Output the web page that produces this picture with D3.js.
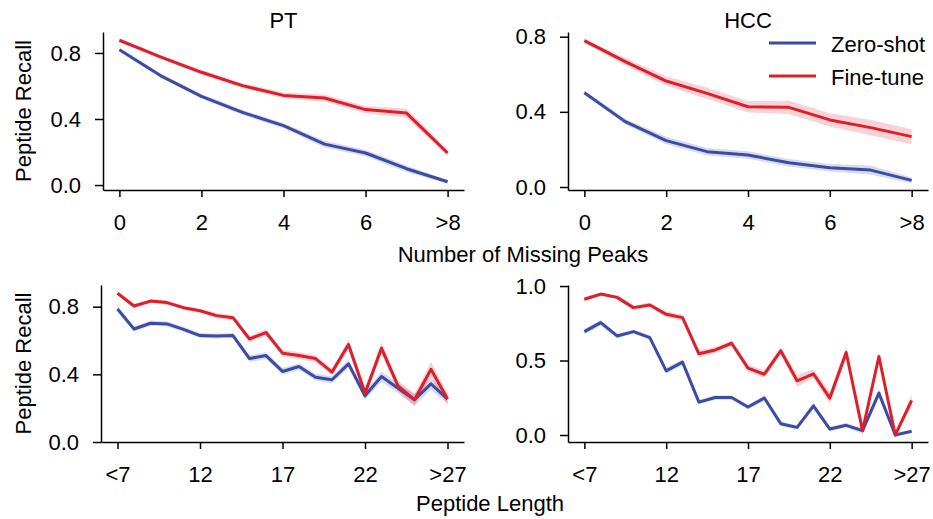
<!DOCTYPE html>
<html>
<head>
<meta charset="utf-8">
<script src="https://cdn.jsdelivr.net/npm/d3@7"></script>
<style>
  body { margin: 0; background: #fff; }
  svg { font-family: "Liberation Sans", Arial, sans-serif; }
  .tick text { font-size: 22px; fill: #000; }
  .domain, .tick line { stroke: #000; stroke-width: 1.5px; }
</style>
</head>
<body>
<script>
// Missing peaks panels
const peakX = [0, 1, 2, 3, 4, 5, 6, 7, 8]
const peakTicks = [0, 2, 4, 6, 8]
const peakTickLabels = ['0', '2', '4', '6', '>8']

const ptZero = [0.82, 0.663, 0.537, 0.44, 0.36, 0.248, 0.194, 0.099, 0.02]
const ptZeroCi = [0.01, 0.012, 0.015, 0.015, 0.016, 0.02, 0.02, 0.02, 0.01]
const ptFine = [0.877, 0.776, 0.683, 0.602, 0.543, 0.527, 0.457, 0.436, 0.194]
const ptFineCi = [0.01, 0.012, 0.015, 0.015, 0.018, 0.022, 0.022, 0.028, 0.018]

const hccZero = [0.502, 0.348, 0.247, 0.188, 0.17, 0.129, 0.103, 0.09, 0.035]
const hccZeroCi = [0.01, 0.015, 0.02, 0.02, 0.02, 0.02, 0.02, 0.025, 0.015]
const hccFine = [0.779, 0.667, 0.564, 0.498, 0.427, 0.424, 0.357, 0.316, 0.268]
const hccFineCi = [0.012, 0.02, 0.025, 0.03, 0.03, 0.035, 0.035, 0.04, 0.04]

// Peptide length panels (index 0 = "<7", index 20 = ">27")
const lenX = d3.range(21)
const lenTicks = [0, 5, 10, 15, 20]
const lenTickLabels = ['<7', '12', '17', '22', '>27']

const ptLenZero = [0.786, 0.668, 0.702, 0.698, 0.666, 0.629, 0.627, 0.629, 0.493, 0.511, 0.417,
  0.446, 0.383, 0.368, 0.462, 0.273, 0.387, 0.318, 0.25, 0.344, 0.254]
const ptLenZeroCi = [0.015, 0.015, 0.015, 0.015, 0.015, 0.015, 0.015, 0.015, 0.02, 0.02, 0.02,
  0.02, 0.02, 0.02, 0.025, 0.025, 0.03, 0.03, 0.035, 0.035, 0.03]
const ptLenFine = [0.879, 0.804, 0.833, 0.824, 0.794, 0.776, 0.747, 0.735, 0.609, 0.647, 0.525,
  0.511, 0.493, 0.413, 0.576, 0.289, 0.554, 0.332, 0.25, 0.43, 0.254]
const ptLenFineCi = [0.01, 0.012, 0.012, 0.012, 0.012, 0.012, 0.015, 0.015, 0.018, 0.02, 0.02,
  0.02, 0.02, 0.02, 0.03, 0.03, 0.035, 0.03, 0.035, 0.045, 0.035]

const hccLenZero = [0.694, 0.754, 0.665, 0.694, 0.654, 0.431, 0.489, 0.221, 0.252, 0.252, 0.188,
  0.248, 0.076, 0.051, 0.196, 0.04, 0.065, 0.029, 0.281, 0.0, 0.025]
const hccLenZeroCi = [0.02, 0.02, 0.015, 0.015, 0.015, 0.02, 0.02, 0.015, 0.015, 0.015, 0.015,
  0.02, 0.015, 0.015, 0.02, 0.015, 0.015, 0.02, 0.03, 0.005, 0.01]
const hccLenFine = [0.911, 0.946, 0.924, 0.855, 0.873, 0.81, 0.788, 0.545, 0.571, 0.616, 0.449,
  0.408, 0.565, 0.364, 0.411, 0.248, 0.554, 0.029, 0.527, 0.0, 0.232]
const hccLenFineCi = [0.015, 0.012, 0.012, 0.015, 0.015, 0.02, 0.02, 0.025, 0.02, 0.02, 0.025,
  0.025, 0.025, 0.04, 0.03, 0.04, 0.04, 0.02, 0.03, 0.005, 0.04]

const seriesNames = ['Zero-shot', 'Fine-tune']
const colors = ['#3a4ca4', '#dd1f2b']
const FONT = 22

const panels = [
  { title: 'PT', x: peakX, ticks: peakTicks, tickLabels: peakTickLabels, xDom: [-0.4, 8.4],
    yDom: [-0.03, 0.927], yTicks: [0, 0.4, 0.8], left: 103, right: 464, top: 32, bottom: 190,
    series: [[ptZero, ptZeroCi], [ptFine, ptFineCi]], yLabel: true },
  { title: 'HCC', x: peakX, ticks: peakTicks, tickLabels: peakTickLabels, xDom: [-0.4, 8.4],
    yDom: [-0.016, 0.825], yTicks: [0, 0.4, 0.8], left: 568, right: 928, top: 32, bottom: 190,
    series: [[hccZero, hccZeroCi], [hccFine, hccFineCi]], legend: true },
  { x: lenX, ticks: lenTicks, tickLabels: lenTickLabels, xDom: [-1, 21],
    yDom: [0, 0.928], yTicks: [0, 0.4, 0.8], left: 101, right: 464, top: 285, bottom: 442,
    series: [[ptLenZero, ptLenZeroCi], [ptLenFine, ptLenFineCi]], yLabel: true },
  { x: lenX, ticks: lenTicks, tickLabels: lenTickLabels, xDom: [-1, 21],
    yDom: [-0.047, 1.007], yTicks: [0, 0.5, 1.0], left: 568, right: 928, top: 285, bottom: 442,
    series: [[hccLenZero, hccLenZeroCi], [hccLenFine, hccLenFineCi]] }
]

const svg = d3.select('body')
  .append('svg')
  .attr('width', 933)
  .attr('height', 519)

panels.forEach(p => {
  const x = d3.scaleLinear().domain(p.xDom).range([p.left, p.right])
  const y = d3.scaleLinear().domain(p.yDom).range([p.bottom, p.top])

  const g = svg.append('g')

  p.series.forEach(([vals, ci], k) => {
    const pts = p.x.map((xv, i) => ({ x: xv, y: vals[i], lo: vals[i] - ci[i], hi: vals[i] + ci[i] }))
    g.append('path')
      .datum(pts)
      .attr('d', d3.area().x(d => x(d.x)).y0(d => y(d.lo)).y1(d => y(d.hi)))
      .attr('fill', colors[k])
      .attr('fill-opacity', 0.2)
    g.append('path')
      .datum(pts)
      .attr('d', d3.line().x(d => x(d.x)).y(d => y(d.y)))
      .attr('fill', 'none')
      .attr('stroke', colors[k])
      .attr('stroke-width', 3)
      .attr('stroke-linejoin', 'round')
  })

  g.append('g')
    .attr('transform', `translate(0,${p.bottom})`)
    .call(d3.axisBottom(x).tickValues(p.ticks).tickFormat((d, i) => p.tickLabels[i])
      .tickSize(7).tickSizeOuter(0).tickPadding(17))

  g.append('g')
    .attr('transform', `translate(${p.left},0)`)
    .call(d3.axisLeft(y).tickValues(p.yTicks).tickFormat(d3.format('.1f'))
      .tickSize(8).tickSizeOuter(0).tickPadding(14))

  if (p.title) {
    svg.append('text')
      .attr('x', (p.left + p.right) / 2)
      .attr('y', 28)
      .attr('text-anchor', 'middle')
      .attr('font-size', FONT)
      .text(p.title)
  }
  if (p.yLabel) {
    svg.append('text')
      .attr('transform', `translate(31,${(p.top + p.bottom) / 2}) rotate(-90)`)
      .attr('text-anchor', 'middle')
      .attr('font-size', FONT)
      .text('Peptide Recall')
  }
  if (p.legend) {
    seriesNames.forEach((name, k) => {
      const ly = 43 + k * 33
      svg.append('line')
        .attr('x1', 769).attr('x2', 816)
        .attr('y1', ly).attr('y2', ly)
        .attr('stroke', colors[k])
        .attr('stroke-width', 3)
      svg.append('text')
        .attr('x', 831)
        .attr('y', ly + 9)
        .attr('font-size', FONT)
        .text(name)
    })
  }
})

svg.append('text')
  .attr('x', 523).attr('y', 262)
  .attr('text-anchor', 'middle')
  .attr('font-size', FONT)
  .text('Number of Missing Peaks')

svg.append('text')
  .attr('x', 490).attr('y', 511)
  .attr('text-anchor', 'middle')
  .attr('font-size', FONT)
  .text('Peptide Length')
</script>
</body>
</html>
